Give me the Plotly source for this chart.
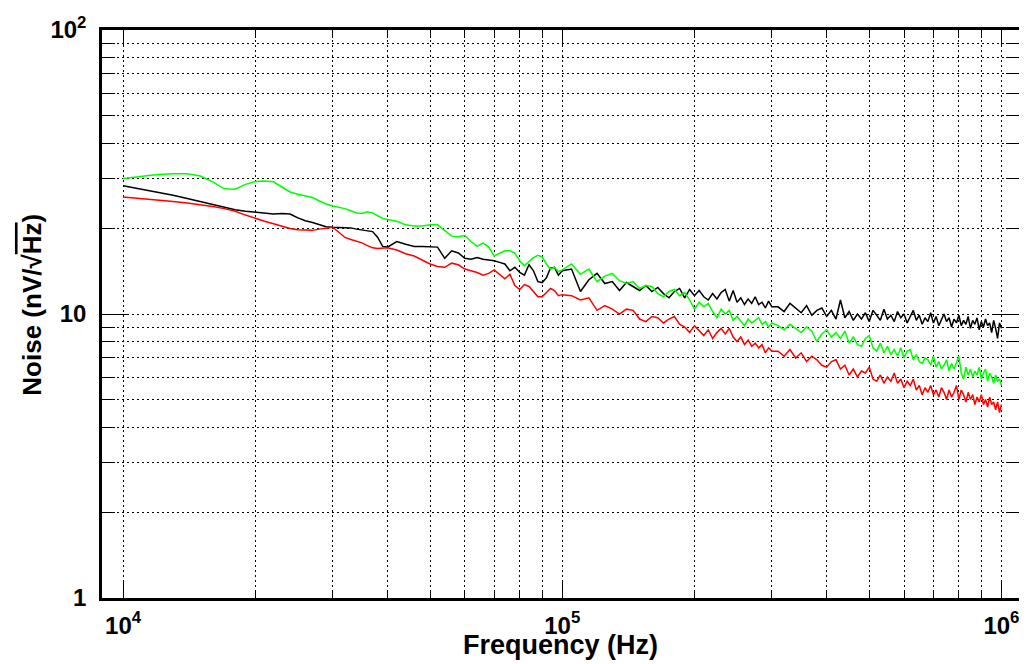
import plotly.graph_objects as go

# frequency points in kHz (shared by all three curves)
freq_khz = [
    10, 11, 12, 13, 14, 15, 16, 17, 18, 19, 20, 21, 22, 23, 24, 25, 26, 27, 28, 29,
    30, 31, 32, 33, 34, 35, 36, 37, 38, 39, 40,
    42, 44, 46, 48, 50, 52, 54, 56, 58, 60, 62, 64, 66, 68, 70, 72, 74, 76, 78, 80,
    82, 84, 86, 88, 90, 92, 94, 96, 98, 100,
    105, 110, 115, 120, 125, 130, 135, 140, 145, 150, 155, 160, 165, 170, 175, 180,
    185, 190, 195, 200, 205, 210, 215, 220, 225, 230, 235, 240, 245, 250, 255, 260,
    265, 270, 275, 280, 285, 290, 295, 300,
    310, 320, 330, 340, 350, 360, 370, 380, 390, 400, 410, 420, 430, 440, 450, 460,
    470, 480, 490, 500, 510, 520, 530, 540, 550, 560, 570, 580, 590, 600, 610, 620,
    630, 640, 650, 660, 670, 680, 690, 700, 710, 720, 730, 740, 750, 760, 770, 780,
    790, 800, 810, 820, 830, 840, 850, 860, 870, 880, 890, 900, 910, 920, 930, 940,
    950, 960, 970, 980, 990, 1000,
]

noise_black = [
    28.3, 27.5, 26.9, 26.2, 25.5, 24.9, 24.3, 23.7, 23.3, 23.0, 22.8, 22.6, 22.5, 22.6, 22.5, 21.8,
    21.3, 21.0, 20.6, 20.3, 20.2, 20.2, 20.2, 20.1, 19.9, 19.8, 19.7, 19.5, 18.6, 17.3, 17.2,
    18.0, 17.6, 17.3, 17.3, 17.3, 17.2, 15.7, 16.7, 16.4, 15.7, 15.6, 15.8, 15.6, 15.5, 15.4, 15.2,
    15.0, 14.2, 14.6, 14.0, 13.7, 14.9, 14.2, 13.0, 12.9, 13.4, 14.5, 14.6, 13.7, 14.2,
    14.4, 12.0, 13.2, 13.9, 12.8, 13.0, 12.1, 12.9, 12.5, 12.1, 12.6, 12.0, 12.4, 11.8, 11.4, 12.0,
    12.3, 11.4, 12.2, 11.6, 12.1, 11.5, 11.2, 11.8, 11.3, 11.9, 12.2, 11.1, 12.1, 11.0, 11.4, 10.8,
    11.3, 10.9, 11.5, 10.8, 11.0, 10.5, 11.1, 10.6,
    10.6, 10.2, 10.9, 10.5, 10.1, 10.7, 9.9, 10.3, 10.5, 9.8, 10.3, 9.6, 11.2, 9.7, 10.2, 9.5,
    10.0, 9.6, 10.1, 9.4, 10.3, 9.9, 9.5, 10.4, 9.6, 9.9, 9.4, 10.2, 9.7, 10.0, 9.3, 9.8,
    10.3, 9.5, 9.9, 9.2, 9.7, 9.4, 10.1, 9.3, 9.8, 9.1, 9.6, 10.0, 9.4, 9.7, 9.0, 9.6,
    9.3, 9.9, 9.1, 9.5, 9.2, 9.8, 8.9, 9.5, 9.2, 9.7, 8.8, 9.4, 9.0, 9.6, 9.1, 9.3,
    8.6, 9.5, 8.9, 8.2, 9.3, 8.9,
]

noise_green = [
    30.0, 30.6, 31.0, 31.2, 31.2, 30.6, 29.2, 27.6, 27.5, 28.6, 29.3, 29.4, 29.2, 28.0, 26.9, 26.4,
    26.1, 25.7, 25.0, 24.4, 24.0, 23.8, 23.5, 23.1, 22.7, 22.6, 22.9, 22.7, 22.2, 21.7, 21.5,
    21.2, 20.6, 20.4, 20.4, 20.6, 20.6, 19.6, 18.8, 18.7, 18.9, 18.0, 17.3, 17.8, 17.2, 16.0, 16.3,
    16.7, 16.7, 16.4, 15.4, 14.8, 15.3, 15.8, 16.1, 15.9, 15.0, 14.4, 14.6, 14.1, 14.3,
    15.0, 13.8, 14.4, 13.0, 13.6, 13.9, 13.1, 12.8, 13.0, 12.3, 12.6, 12.5, 11.8, 11.5, 12.0, 12.2,
    11.6, 11.9, 11.2, 10.4, 11.0, 10.6, 10.9, 10.2, 9.7, 10.4, 10.0, 10.3, 9.5, 9.8, 9.4, 9.1,
    9.6, 9.3, 9.5, 9.7, 9.2, 9.4, 9.0, 9.3,
    9.1, 8.8, 9.2, 8.9, 8.6, 9.0, 8.7, 8.0, 8.5, 8.8, 8.3, 8.6, 8.2, 8.7, 7.9, 8.3,
    7.8, 7.7, 8.2, 8.4, 7.6, 7.4, 7.9, 7.3, 7.7, 7.2, 7.5, 7.1, 7.6, 7.0, 7.4, 7.5,
    6.9, 7.2, 6.8, 6.7, 7.0, 6.9, 6.6, 7.1, 6.5, 6.8, 6.4, 6.6, 6.9, 6.3, 6.7, 6.4,
    6.8, 7.1, 6.2, 5.9, 6.5, 6.1, 6.4, 6.0, 6.3, 6.1, 6.5, 5.9, 6.2, 6.4, 5.8, 6.2,
    6.0, 5.7, 6.1, 5.8, 5.9, 5.6,
]

noise_red = [
    25.8, 25.5, 25.2, 24.9, 24.6, 24.3, 23.9, 23.5, 23.0, 22.3, 21.7, 21.2, 20.8, 20.4, 20.0, 19.8,
    19.7, 19.7, 19.9, 20.1, 20.2, 19.4, 18.6, 18.3, 18.1, 17.8, 17.4, 17.1, 17.0, 17.0, 17.1,
    16.8, 16.3, 16.0, 15.5, 15.0, 14.7, 14.6, 15.1, 14.9, 14.4, 14.2, 14.0, 13.7, 13.9, 14.3, 13.8,
    13.3, 13.8, 12.6, 12.2, 12.7, 12.5, 12.0, 11.5, 11.5, 11.9, 12.3, 12.1, 11.6, 11.7,
    11.6, 11.2, 11.4, 10.3, 10.7, 10.4, 10.0, 10.4, 10.3, 9.6, 9.4, 9.8, 9.7, 9.3, 9.6, 9.8,
    9.2, 9.0, 8.6, 9.1, 8.7, 8.4, 8.8, 8.2, 8.6, 8.9, 8.5, 8.9, 8.3, 8.0, 8.3, 7.8,
    8.1, 7.7, 7.9, 7.6, 7.8, 7.3, 7.6, 7.4,
    7.4, 7.1, 7.5, 7.0, 7.3, 6.8, 7.1, 6.9, 6.6, 6.5, 6.8, 6.9, 6.4, 6.6, 6.1, 6.4,
    6.0, 6.3, 6.2, 6.5, 5.9, 5.8, 6.1, 5.7, 6.0, 5.8, 6.2, 5.7, 5.9, 5.5, 5.8, 5.6,
    5.9, 5.4, 5.6, 5.2, 5.5, 5.3, 5.6, 5.2, 5.4, 5.1, 5.5, 5.3, 5.0, 5.4, 5.1, 5.3,
    5.6, 5.0, 5.4, 5.2, 4.9, 5.3, 5.0, 5.2, 4.8, 5.1, 4.9, 5.2, 4.8, 5.0, 4.7, 5.1,
    4.8, 4.9, 4.6, 4.9, 4.5, 4.8,
]

x_ticks = [1e4, 1e5, 1e6]
x_ticktext = ["10<sup>4</sup>", "10<sup>5</sup>", "10<sup>6</sup>"]
x_minor = [2e4, 3e4, 4e4, 5e4, 6e4, 7e4, 8e4, 9e4,
           2e5, 3e5, 4e5, 5e5, 6e5, 7e5, 8e5, 9e5]
y_ticks = [1, 10, 100]
y_ticktext = ["1", "10", "10<sup>2</sup>"]
y_minor = [2, 3, 4, 5, 6, 7, 8, 9, 20, 30, 40, 50, 60, 70, 80, 90]

freq = [f * 1000 for f in freq_khz]

FONT = "Liberation Sans, Arial, Helvetica, sans-serif"

fig = go.Figure()
for vals, col in [(noise_black, "black"), (noise_green, "#00ff00"), (noise_red, "#ff0000")]:
    fig.add_trace(go.Scatter(x=freq, y=vals, mode="lines",
                             line=dict(color=col, width=1.5), showlegend=False))

grid_common = dict(showgrid=True, gridcolor="black", gridwidth=1, griddash="2px,3px",
                   showline=True, linecolor="black", linewidth=2.5, mirror="ticks",
                   ticks="inside", tickcolor="black", tickwidth=1.2, zeroline=False,
                   ticklabeloverflow="allow",
                   tickfont=dict(family=FONT, size=24, color="black", weight="bold"))

fig.update_xaxes(type="log", range=[3.952, 6.040],
                 tickvals=x_ticks, ticktext=x_ticktext, ticklen=17, ticklabelstandoff=4,
                 minor=dict(tickvals=x_minor, ticks="inside", ticklen=8, tickcolor="black",
                            tickwidth=1.2, showgrid=True, gridcolor="black", gridwidth=1,
                            griddash="2px,3px"),
                 **grid_common)
fig.update_yaxes(type="log", range=[0, 2],
                 tickvals=y_ticks, ticktext=y_ticktext, ticklen=27, ticklabelstandoff=8,
                 minor=dict(tickvals=y_minor, ticks="inside", ticklen=13, tickcolor="black",
                            tickwidth=1.2, showgrid=True, gridcolor="black", gridwidth=1,
                            griddash="2px,3px"),
                 **grid_common)

fig.add_annotation(text="Frequency (Hz)", xref="paper", yref="paper",
                   x=0.5, y=-0.082, xanchor="center", yanchor="middle", showarrow=False,
                   font=dict(family=FONT, size=27, color="black", weight="bold"))
fig.add_annotation(text="Noise (nV/√<span style='text-decoration:overline'>Hz</span>)",
                   xref="paper", yref="paper", textangle=-90,
                   x=-0.076, y=0.517, xanchor="center", yanchor="middle", showarrow=False,
                   font=dict(family=FONT, size=26, color="black", weight="bold"))

# the page puts the plot 8px in from the top-left corner, so the figure is 8px smaller
fig.update_layout(width=1019, height=656, plot_bgcolor="white", paper_bgcolor="white",
                  margin=dict(l=94, r=5, t=16, b=66), showlegend=False)

fig.write_html("out.html")
